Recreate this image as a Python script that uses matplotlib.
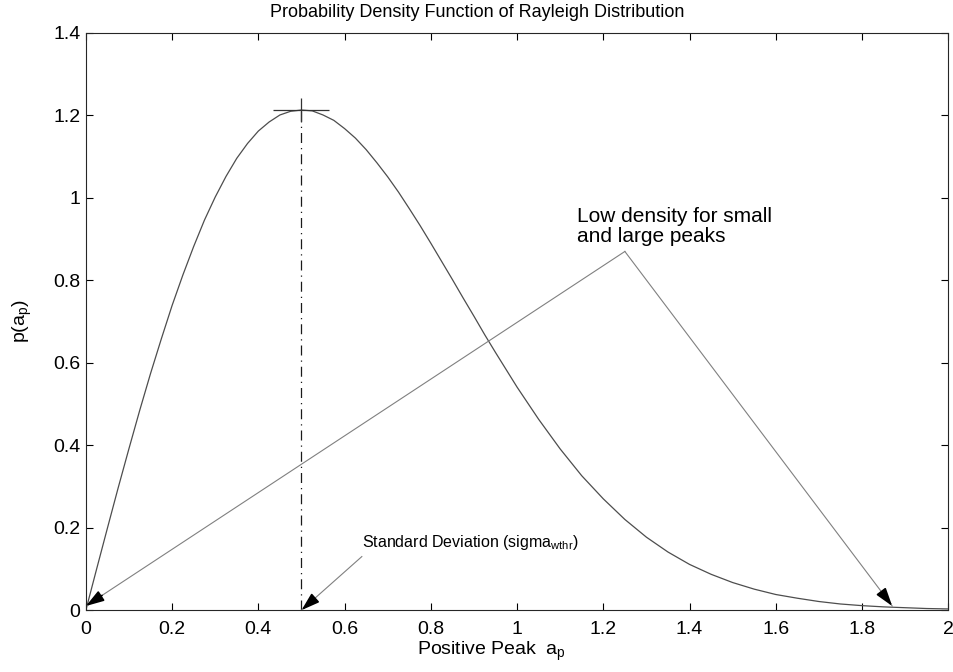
import matplotlib
matplotlib.use("Agg")
import matplotlib.pyplot as plt
from matplotlib.ticker import FuncFormatter

plt.rcParams['font.family'] = ['Liberation Sans', 'DejaVu Sans']
plt.rcParams['mathtext.fontset'] = 'custom'
plt.rcParams['mathtext.rm'] = 'Liberation Sans'

# Rayleigh density
peak_amp = [0.0, 0.025, 0.05, 0.075, 0.1, 0.125, 0.15, 0.175, 0.2, 0.225, 0.25,
            0.275, 0.3, 0.325, 0.35, 0.375, 0.4, 0.425, 0.45, 0.475, 0.5,
            0.525, 0.55, 0.575, 0.6, 0.625, 0.65, 0.675, 0.7, 0.725, 0.75,
            0.775, 0.8, 0.825, 0.85, 0.875, 0.9, 0.925, 0.95, 0.975, 1.0,
            1.05, 1.1, 1.15, 1.2, 1.25, 1.3, 1.35, 1.4, 1.45, 1.5,
            1.55, 1.6, 1.65, 1.7, 1.75, 1.8, 1.85, 1.9, 1.95, 2.0]
density = [0.0, 0.100, 0.199, 0.297, 0.392, 0.485, 0.574, 0.658, 0.739, 0.813, 0.882,
           0.946, 1.002, 1.052, 1.096, 1.132, 1.162, 1.184, 1.201, 1.210, 1.213,
           1.211, 1.201, 1.188, 1.168, 1.145, 1.117, 1.085, 1.051, 1.014, 0.974,
           0.933, 0.890, 0.846, 0.802, 0.757, 0.713, 0.668, 0.625, 0.583, 0.541,
           0.463, 0.391, 0.326, 0.270, 0.220, 0.177, 0.141, 0.111, 0.087, 0.067,
           0.051, 0.038, 0.029, 0.021, 0.015, 0.011, 0.008, 0.006, 0.004, 0.003]

sigma = 0.5
peak_val = 1.213

# annotation anchor points
low_text_pos = (1.14, 0.893)
low_apex = (1.25, 0.87)
low_tips = [(0.0, 0.01), (1.87, 0.01)]
sd_text_pos = (0.64, 0.153)
sd_start = (0.64, 0.13)
sd_tip = (0.5, 0.0)

xticks = [0, 0.2, 0.4, 0.6, 0.8, 1.0, 1.2, 1.4, 1.6, 1.8, 2.0]
yticks = [0, 0.2, 0.4, 0.6, 0.8, 1.0, 1.2, 1.4]

fig = plt.figure(figsize=(9.54, 6.72), dpi=100)
ax = fig.add_axes([0.090, 0.092, 0.904, 0.859])

ax.plot(peak_amp, density, color='0.3', lw=0.9)

# standard deviation marker
ax.plot([sigma, sigma], [0, peak_val], color='0.1', lw=0.9, ls=(0, (8, 4, 1, 4)))
ax.plot([sigma], [peak_val], marker='_', ms=41, mew=0.9, color='0.2')
ax.plot([sigma], [peak_val], marker='|', ms=17, mew=0.9, color='0.2')


def arrow(start, tip, frac):
    ax.plot([start[0], tip[0]], [start[1], tip[1]], color='0.5', lw=0.8)
    back = (tip[0] + frac * (start[0] - tip[0]), tip[1] + frac * (start[1] - tip[1]))
    ax.annotate('', xy=tip, xytext=back,
                arrowprops=dict(arrowstyle='-|>,head_length=1.1,head_width=0.35',
                                color='black', lw=1.2, shrinkA=0, shrinkB=0))


for t in low_tips:
    arrow(low_apex, t, 0.03)
arrow(sd_start, sd_tip, 0.15)

ax.text(*low_text_pos, 'Low density for small\nand large peaks', fontsize=15,
        va='baseline', ha='left', linespacing=1.05)
ax.text(*sd_text_pos, r'Standard Deviation (sigma$_{\mathregular{wthr}}$)', fontsize=11.5,
        va='baseline', ha='left')

ax.set_xlim(0, 2)
ax.set_ylim(0, 1.4)
ax.set_xticks(xticks)
ax.set_yticks(yticks)
ax.xaxis.set_major_formatter(FuncFormatter(lambda v, p: '%g' % v))
ax.yaxis.set_major_formatter(FuncFormatter(lambda v, p: '%g' % v))
ax.tick_params(direction='in', length=5, width=0.8, top=True, right=True,
               labelsize=14, pad=4)
ax.tick_params(axis='x', pad=8)
for s in ax.spines.values():
    s.set_linewidth(0.8)
    s.set_color('0.15')

fig.text(0.5, 0.975, 'Probability Density Function of Rayleigh Distribution',
         fontsize=13, ha='center', va='baseline')
fig.text(0.515, 0.025, r'Positive Peak  $\mathregular{a_p}$', fontsize=14,
         ha='center', va='baseline')
ax.set_ylabel(r'p(a$_{\mathregular{p}}$)', fontsize=14, labelpad=14)

fig.savefig('out.png', dpi=100)
